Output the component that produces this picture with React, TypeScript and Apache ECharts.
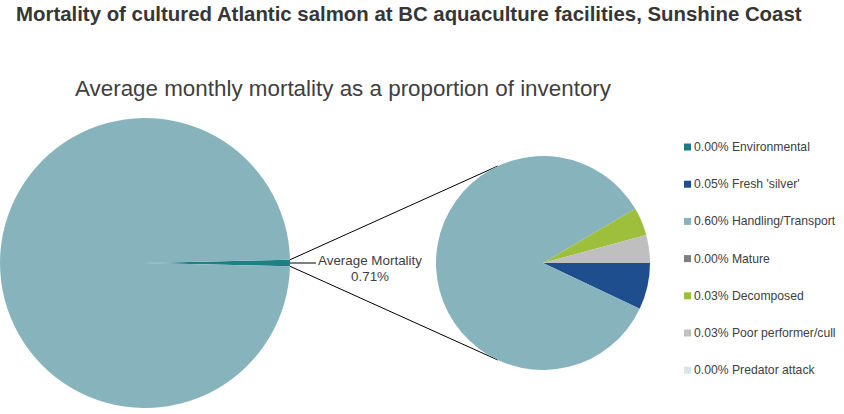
import React, { useEffect, useRef } from 'react';
import * as echarts from 'echarts';

// causes of mortality, average monthly % of inventory
const causes = [
    'Environmental',
    "Fresh 'silver'",
    'Handling/Transport',
    'Mature',
    'Decomposed',
    'Poor performer/cull',
    'Predator attack',
];
const causeValues = [0.0, 0.05, 0.6, 0.0, 0.03, 0.03, 0.0];
const causeColors = ['#1F7A80', '#1F4E8E', '#87B4BC', '#7F7F7F', '#9DBF3B', '#BFBFBF', '#D8E6E6'];

const mainTitle = 'Mortality of cultured Atlantic salmon at BC aquaculture facilities, Sunshine Coast';
const subTitle = 'Average monthly mortality as a proportion of inventory';
const mortalityLabel = 'Average Mortality';

const FONT = '"Liberation Sans", Arial, sans-serif';

// pie geometry
const C1 = [145, 263];
const R1 = 145;
const C2 = [543, 263];
const R2 = 107;

export default function App() {
    const chartRef = useRef<HTMLDivElement>(null);

    useEffect(() => {
        if (!chartRef.current) return;
        const chart = echarts.init(chartRef.current, null, { renderer: 'svg' });

        const total = causeValues.reduce((a, b) => a + b, 0);
        const half = (total / 100) * 180; // half angle of the mortality wedge, deg
        const hr = (half * Math.PI) / 180;
        const endA = (115 * Math.PI) / 180;

        const p1 = [C1[0] + R1 * Math.cos(hr), C1[1] - R1 * Math.sin(hr)];
        const p2 = [C1[0] + R1 * Math.cos(hr), C1[1] + R1 * Math.sin(hr)];
        const q1 = [C2[0] + R2 * Math.cos(endA), C2[1] - R2 * Math.sin(endA)];
        const q2 = [C2[0] + R2 * Math.cos(endA), C2[1] + R2 * Math.sin(endA)];

        const option = {
            animation: false,
            title: [
                {
                    text: mainTitle,
                    left: 11,
                    top: -1,
                    textStyle: { fontFamily: FONT, fontSize: 20.4, fontWeight: 'bold', color: '#363636' },
                },
                {
                    text: subTitle,
                    left: 70,
                    top: 72,
                    textStyle: { fontFamily: FONT, fontSize: 22.4, fontWeight: 'normal', color: '#404040' },
                },
            ],
            legend: {
                orient: 'vertical',
                left: 679,
                top: 136,
                icon: 'rect',
                itemWidth: 7,
                itemHeight: 7,
                itemGap: 25.2,
                data: causes,
                formatter: (name: string) => {
                    const i = causes.indexOf(name);
                    return `${causeValues[i].toFixed(2)}% ${name}`;
                },
                textStyle: { fontFamily: FONT, fontSize: 12.2, color: '#404040', padding: [0, 0, 0, -2] },
            },
            graphic: [
                { type: 'line', shape: { x1: p1[0], y1: p1[1], x2: q1[0], y2: q1[1] }, style: { stroke: '#000', lineWidth: 1 } },
                { type: 'line', shape: { x1: p2[0], y1: p2[1], x2: q2[0], y2: q2[1] }, style: { stroke: '#000', lineWidth: 1 } },
            ],
            series: [
                {
                    type: 'pie',
                    center: C1,
                    radius: R1,
                    startAngle: half,
                    clockwise: true,
                    itemStyle: { borderWidth: 0 },
                    emphasis: { disabled: true },
                    data: [
                        {
                            name: mortalityLabel,
                            value: total,
                            itemStyle: { color: '#1F7F85' },
                            label: {
                                show: true,
                                position: 'outside',
                                distanceToLabelLine: 2,
                                padding: [10, 0, 0, 0],
                                formatter: (p: any) => `{a|${p.name}}\n{a|${p.value.toFixed(2)}%}`,
                                rich: {
                                    a: { width: 104, align: 'center', fontFamily: FONT, fontSize: 13.4, lineHeight: 16, color: '#404040' },
                                },
                            },
                            labelLine: { show: true, length: 25, length2: 1, lineStyle: { color: '#000', width: 1 } },
                        },
                        {
                            name: 'Inventory',
                            value: 100 - total,
                            itemStyle: { color: causeColors[2] },
                            label: { show: false },
                            labelLine: { show: false },
                        },
                    ],
                },
                {
                    type: 'pie',
                    center: C2,
                    radius: R2,
                    startAngle: 0,
                    clockwise: true,
                    label: { show: false },
                    labelLine: { show: false },
                    itemStyle: { borderWidth: 0 },
                    emphasis: { disabled: true },
                    data: causes.map((name, i) => ({
                        name,
                        value: causeValues[i],
                        itemStyle: { color: causeColors[i] },
                    })),
                },
            ],
        };
        chart.setOption(option);

        return () => {
            chart.dispose();
        };
    }, []);

    return (
        <div
            ref={chartRef}
            style={{ position: 'fixed', left: 0, top: 0, width: '844px', height: '414px', background: '#fff' }}
        ></div>
    );
}
